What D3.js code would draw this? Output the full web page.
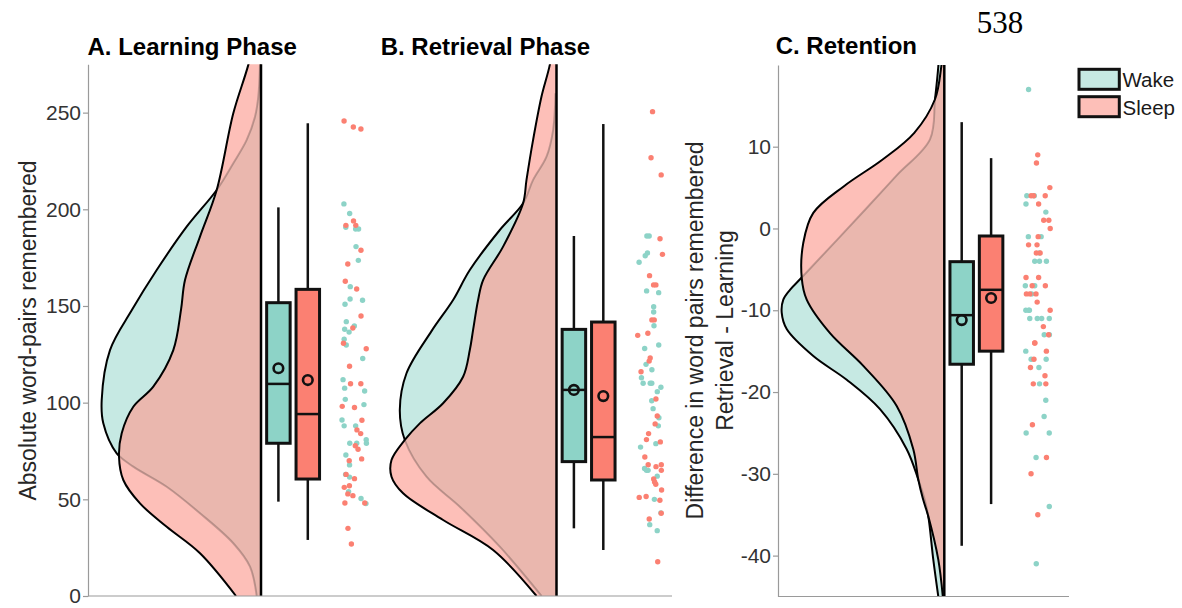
<!DOCTYPE html>
<html><head><meta charset="utf-8">
<script src="https://cdn.jsdelivr.net/npm/d3@7"></script>
<style>
body{margin:0;background:#fff}
svg{display:block}
</style>
</head><body>
<svg id="c" width="1182" height="608"></svg>
<script>
// ---------------- data ----------------
const groups = ["Wake", "Sleep"];
const panelTitles = ["A. Learning Phase", "B. Retrieval Phase", "C. Retention"];
const yLabelA = ["Absolute word-pairs remembered"];
const yLabelC = ["Difference in word pairs remembered", "Retrieval - Learning"];
const ticksAB = [0, 50, 100, 150, 200, 250];
const ticksC = [-40, -30, -20, -10, 0, 10];
const pageNumber = "538";

// density clouds: [value, density (a.u.)]
const cloudA_wake = [[0,0.043],[15.2,0.11],[27.3,0.277],[42.8,0.61],[56.5,0.943],[66.9,1.277],[73.8,1.443],[89.3,1.577],[101.4,1.593],[127.2,1.51],[148,1.29],[168.6,1.043],[191,0.743],[210,0.443],[223.8,0.277],[235.9,0.143],[247.9,0.06],[258.3,0.027],[275,0.01]];
const cloudA_sleep = [[0,0.25],[22.1,0.61],[35.8,0.943],[47.9,1.21],[60,1.377],[72,1.42],[84.2,1.393],[97.9,1.277],[108.3,1.077],[127.2,0.877],[148,0.8],[163.4,0.76],[185.9,0.61],[210,0.443],[249.7,0.277],[274.7,0.127],[290,0.06],[310,0.02],[330,0.005]];
const cloudB_wake = [[0,0.15],[25.5,0.567],[46.2,0.967],[61.7,1.3],[80.7,1.517],[96.2,1.567],[115.2,1.5],[137,1.25],[153.1,1.034],[168.6,0.867],[189.3,0.567],[203.1,0.334],[215.2,0.234],[227.2,0.1],[241,0.034],[260,0.01]];
const cloudB_sleep = [[0,0.2],[23.8,0.634],[39.3,1.134],[53.1,1.534],[61.7,1.65],[70.3,1.65],[80.7,1.517],[89.3,1.367],[99.7,1.134],[113.4,0.934],[127.2,0.867],[137.6,0.834],[153.1,0.784],[163.4,0.734],[180.7,0.534],[203.1,0.334],[215.2,0.3],[235.9,0.234],[258.3,0.15],[274.7,0.067],[290,0.02],[305,0.005]];
const cloudC_wake = [[-45,0.06],[-40.5,0.11],[-35.2,0.16],[-33,0.2],[-30.7,0.26],[-27,0.376],[-22.1,0.643],[-18.5,0.976],[-15.6,1.31],[-12.3,1.576],[-10.3,1.626],[-8.7,1.61],[-7.5,1.543],[-6,1.426],[2.5,0.776],[6.5,0.476],[10.9,0.143],[15.8,0.093],[19.8,0.06],[22,0.05]];
const cloudC_sleep = [[-45,0.015],[-40.5,0.06],[-35.2,0.16],[-33,0.215],[-30.7,0.26],[-27,0.31],[-21.7,0.476],[-16.8,0.81],[-12.8,1.143],[-8.7,1.376],[-6,1.426],[-1.75,1.41],[1.9,1.31],[5.2,1.0],[8.4,0.62],[11.7,0.3],[15.8,0.093],[19.8,0.03],[22,0.01]];

// box stats: [whisker low, q1, median, q3, whisker high, mean]
const boxA_wake  = [48.8, 79, 109.7, 151.7, 201, 117.8];
const boxA_sleep = [29, 60.5, 94.1, 158.6, 244.5, 111.7];
const boxB_wake  = [35, 69.5, 106.6, 137.9, 186.2, 106.6];
const boxB_sleep = [23.8, 60, 82.2, 141.7, 244.1, 103.4];
const boxC_wake  = [-38.8, -16.6, -10.6, -4.06, 13.0, -11.2];
const boxC_sleep = [-33.7, -15.0, -7.5, -0.92, 8.6, -8.5];

// raw observations
const ptsA_wake = [202.8,197.8,190.7,189.8,189.8,180.7,173.6,160,153.6,153,150.9,141.9,139.7,138,136.5,132.8,129.8,122.8,111.9,107.5,106,101.7,99,91,88,88,80.8,79,79,79,72.9,67.8,62.9,61.5,54,50.4,47.8];
const ptsA_sleep = [245.7,242.6,241.5,194,191.7,191.7,178.8,171.7,162.8,158.8,144.8,138.6,130.7,127.9,118.8,109.8,109.8,98.1,97.5,90.9,85.9,84,77.7,75.9,70.9,70,62.9,60.7,57,56.2,52.8,51.9,48.1,48.1,35,26.9];
const ptsB_wake = [186.2,186.2,177.4,176,172.6,157.8,156.9,149.6,146.9,139.8,129.8,128,119.8,117,112.9,110,110,110,108,105.7,101,96.9,92.2,88,78.8,77,66,65,65,62,50,43,36.9,33.8];
const ptsB_sleep = [250.5,226.7,217.8,184.8,176.7,165.7,160.9,160.9,142.8,142.8,135.9,134.8,123.1,121.5,116,101.9,93.1,89,84,80.9,79.7,71.9,67.9,67.9,66.9,65,60.5,59,57.8,54.8,51.5,51,49.5,42.8,39.8,17.7];
const ptsC_wake = [17,4,4,3,2,-1,-1,-3,-4,-4,-4,-7,-7,-8,-10,-10,-10,-11,-11,-11,-11,-13,-13,-15,-16,-16,-17,-19,-21,-23,-25,-25,-28,-34,-41];
const ptsC_sleep = [9,8,5,4,4,4,3,1,1,0,-1,-2,-2,-3,-3,-6,-6,-7,-7,-8,-8,-8,-9,-10,-12,-13,-14,-14,-15,-16,-17,-18,-19,-19,-24,-28,-30,-35];

// ---------------- drawing ----------------
const FONT = '"Liberation Sans", Arial, Helvetica, sans-serif';
const colors = {Wake: "#8dd3c7", Sleep: "#fb8072"};
const overlapColor = "#eab7ae";
const svg = d3.select("#c").style("font-family", FONT);

const yAB = d3.scaleLinear().domain([0, 275]).range([596, 64.3]);
const yC  = d3.scaleLinear().domain([-45, 20]).range([596.5, 64.9]);
const dens = d3.scaleLinear().domain([0, 1]).range([0, 100]);

let seed = 20231;
const rand = () => (seed = (seed * 1664525 + 1013904223) % 4294967296) / 4294967296;

const panels = [
  {id:"A", title:panelTitles[0], tx:87.5, ty:55, base:261, y:yAB, clip:[89,380],
   clouds:[cloudA_wake, cloudA_sleep], boxes:[boxA_wake, boxA_sleep], pts:[ptsA_wake, ptsA_sleep]},
  {id:"B", title:panelTitles[1], tx:380.7, ty:54.5, base:556.5, y:yAB, clip:[380,672],
   clouds:[cloudB_wake, cloudB_sleep], boxes:[boxB_wake, boxB_sleep], pts:[ptsB_wake, ptsB_sleep]},
  {id:"C", title:panelTitles[2], tx:775.7, ty:54, base:944.3, y:yC, clip:[779,1069],
   clouds:[cloudC_wake, cloudC_sleep], boxes:[boxC_wake, boxC_sleep], pts:[ptsC_wake, ptsC_sleep]}
];
const boxOff = [17.4, 46.8], boxW = 23.5, scatterRange = [81, 106];

const defs = svg.append("defs");

panels.forEach(p => {
  const y = p.y;
  const [yb, yt] = y.range();
  defs.append("clipPath").attr("id", "clip" + p.id)
    .append("rect").attr("x", p.clip[0]).attr("y", yt).attr("width", p.clip[1] - p.clip[0]).attr("height", yb - yt);

  const area = d3.area().curve(d3.curveCatmullRom.alpha(0.5))
    .y(d => y(d[0])).x0(p.base).x1(d => p.base - dens(d[1]));
  const line = d3.line().curve(d3.curveCatmullRom.alpha(0.5))
    .y(d => y(d[0])).x(d => p.base - dens(d[1]));

  const wakeC = p.clouds[0], sleepC = p.clouds[1];
  const sleepArea = area(sleepC);
  // clip to inside of sleep cloud, mask for outside of it
  defs.append("clipPath").attr("id", "inS" + p.id).append("path").attr("d", sleepArea);
  const m = defs.append("mask").attr("id", "outS" + p.id).attr("maskUnits", "userSpaceOnUse")
    .attr("x", 0).attr("y", 0).attr("width", 1182).attr("height", 608);
  m.append("rect").attr("width", 1182).attr("height", 608).attr("fill", "white");
  m.append("path").attr("d", sleepArea).attr("fill", "black");

  const g = svg.append("g");
  const cg = g.append("g").attr("clip-path", `url(#clip${p.id})`);

  cg.append("path").attr("d", area(wakeC)).attr("fill", colors.Wake).attr("fill-opacity", 0.5);
  cg.append("path").attr("d", sleepArea).attr("fill", colors.Sleep).attr("fill-opacity", 0.5);
  const ing = cg.append("g").attr("clip-path", `url(#inS${p.id})`);
  ing.append("path").attr("d", area(wakeC)).attr("fill", overlapColor);
  ing.append("path").attr("d", line(wakeC)).attr("fill", "none")
    .attr("stroke", "#000").attr("stroke-opacity", 0.22).attr("stroke-width", 2);
  cg.append("g").attr("mask", `url(#outS${p.id})`)
    .append("path").attr("d", line(wakeC)).attr("fill", "none").attr("stroke", "#000").attr("stroke-width", 2);
  cg.append("path").attr("d", line(sleepC)).attr("fill", "none").attr("stroke", "#000").attr("stroke-width", 2);

  // cloud baseline
  g.append("line").attr("x1", p.base).attr("x2", p.base).attr("y1", yt).attr("y2", yb)
    .attr("stroke", "#000").attr("stroke-width", 2.5);

  // boxes
  groups.forEach((grp, i) => {
    const b = p.boxes[i];
    const cx = p.base + boxOff[i];
    const bg = g.append("g");
    bg.append("line").attr("x1", cx).attr("x2", cx).attr("y1", y(b[4])).attr("y2", y(b[3]))
      .attr("stroke", "#111").attr("stroke-width", 2.5);
    bg.append("line").attr("x1", cx).attr("x2", cx).attr("y1", y(b[1])).attr("y2", y(b[0]))
      .attr("stroke", "#111").attr("stroke-width", 2.5);
    bg.append("rect").attr("x", cx - boxW / 2).attr("width", boxW)
      .attr("y", y(b[3])).attr("height", y(b[1]) - y(b[3]))
      .attr("fill", colors[grp]).attr("stroke", "#111").attr("stroke-width", 3);
    bg.append("line").attr("x1", cx - boxW / 2).attr("x2", cx + boxW / 2).attr("y1", y(b[2])).attr("y2", y(b[2]))
      .attr("stroke", "#111").attr("stroke-width", 2.5);
    bg.append("circle").attr("cx", cx).attr("cy", y(b[5])).attr("r", 4.8)
      .attr("fill", "none").attr("stroke", "#111").attr("stroke-width", 2.6);
  });

  // scatter
  const jx = d3.scaleLinear().domain([0, 1]).range([p.base + scatterRange[0], p.base + scatterRange[1]]);
  groups.forEach((grp, i) => {
    g.append("g").selectAll("circle").data(p.pts[i]).join("circle")
      .attr("cx", () => jx(rand())).attr("cy", d => y(d)).attr("r", 2.7)
      .attr("fill", colors[grp]);
  });

  // title
  svg.append("text").attr("x", p.tx).attr("y", p.ty).text(p.title)
    .attr("font-size", 24).attr("font-weight", "bold").attr("fill", "#000");
});

// axes
function styleAxis(sel) {
  sel.select(".domain").attr("stroke", "#9a9a9a").attr("stroke-width", 1.2);
  sel.selectAll(".tick line").attr("stroke", "#9a9a9a").attr("stroke-width", 1.2);
  sel.selectAll(".tick text").attr("fill", "#333").attr("font-size", 21).attr("font-family", FONT);
}
svg.append("g").attr("transform", "translate(88,0)")
  .call(d3.axisLeft(yAB).tickValues(ticksAB).tickSize(5).tickSizeOuter(0).tickPadding(2).tickFormat(d => String(d)))
  .call(styleAxis);
svg.append("g").attr("transform", "translate(778,0)")
  .call(d3.axisLeft(yC).tickValues(ticksC).tickSize(5).tickSizeOuter(0).tickPadding(2).tickFormat(d => String(d)))
  .call(styleAxis);
svg.append("line").attr("x1", 88).attr("x2", 672).attr("y1", yAB(0)).attr("y2", yAB(0))
  .attr("stroke", "#9a9a9a").attr("stroke-width", 1.2);
svg.append("line").attr("x1", 778).attr("x2", 1069).attr("y1", yC(-45)).attr("y2", yC(-45))
  .attr("stroke", "#9a9a9a").attr("stroke-width", 1.2);

// y labels
svg.append("text").attr("transform", "translate(36,330.5) rotate(-90)")
  .attr("text-anchor", "middle").attr("font-size", 23).attr("fill", "#262626").text(yLabelA[0]);
yLabelC.forEach((t, i) => {
  svg.append("text").attr("transform", `translate(${703 + i * 29.7},330.5) rotate(-90)`)
    .attr("text-anchor", "middle").attr("font-size", 23).attr("fill", "#262626").text(t);
});

// legend
const leg = svg.append("g");
groups.forEach((grp, i) => {
  const yy = 69.3 + i * 27.4;
  leg.append("rect").attr("x", 1079).attr("y", yy).attr("width", 40.3).attr("height", 20)
    .attr("fill", colors[grp]).attr("fill-opacity", 0.5).attr("stroke", "#111").attr("stroke-width", 3);
  leg.append("text").attr("x", 1122.5).attr("y", yy + 17.8).attr("font-size", 20.5).attr("fill", "#1a1a1a").text(grp);
});

// page number
svg.append("text").attr("x", 976.7).attr("y", 33.3).attr("font-family", '"Liberation Serif", "Times New Roman", serif')
  .attr("font-size", 31).attr("fill", "#000").text(pageNumber);
</script>
</body></html>
